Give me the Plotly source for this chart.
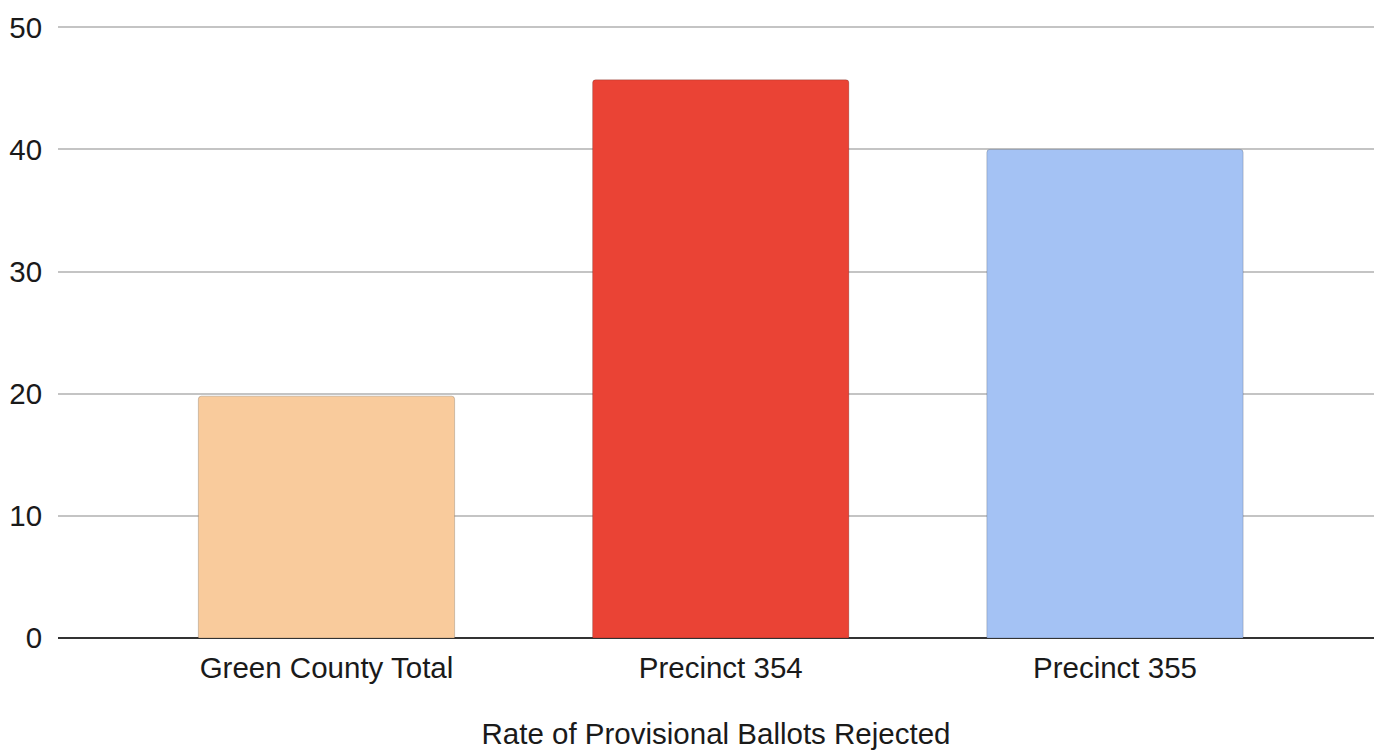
import plotly.graph_objects as go

categories = ["Green County Total", "Precinct 354", "Precinct 355"]
rates = [19.8, 45.7, 40.0]
bar_colors = ["#f9cb9c", "#ea4335", "#a4c2f4"]
y_ticks = [0, 10, 20, 30, 40, 50]

font_family = "Arial, Liberation Sans, sans-serif"

fig = go.Figure(
    go.Bar(
        x=categories,
        y=rates,
        width=0.65,
        marker=dict(
            color=bar_colors,
            line=dict(color="rgba(0,0,0,0.18)", width=1),
        ),
        hoverinfo="x+y",
    )
)

fig.update_layout(
    width=1374,
    height=755,
    margin=dict(l=58, r=0, t=26, b=117),
    paper_bgcolor="white",
    plot_bgcolor="white",
    showlegend=False,
    barcornerradius=3,
    font=dict(family=font_family, size=29.5, color="#1a1a1a"),
)

fig.update_xaxes(
    type="category",
    range=[-0.681, 2.657],
    showgrid=False,
    showline=False,
    ticks="outside",
    ticklen=4,
    tickcolor="rgba(0,0,0,0)",
    tickfont=dict(size=29.5),
    title=dict(text="Rate of Provisional Ballots Rejected", font=dict(size=29.5), standoff=39),
)

fig.update_yaxes(
    range=[0, 50.1],
    tickvals=y_ticks,
    showgrid=True,
    gridcolor="#c4c4c4",
    gridwidth=1.5,
    zeroline=True,
    zerolinecolor="#333333",
    zerolinewidth=2,
    showline=False,
    ticks="outside",
    ticklen=9,
    tickcolor="rgba(0,0,0,0)",
    tickfont=dict(size=29.5),
)

fig.write_html("out.html")
